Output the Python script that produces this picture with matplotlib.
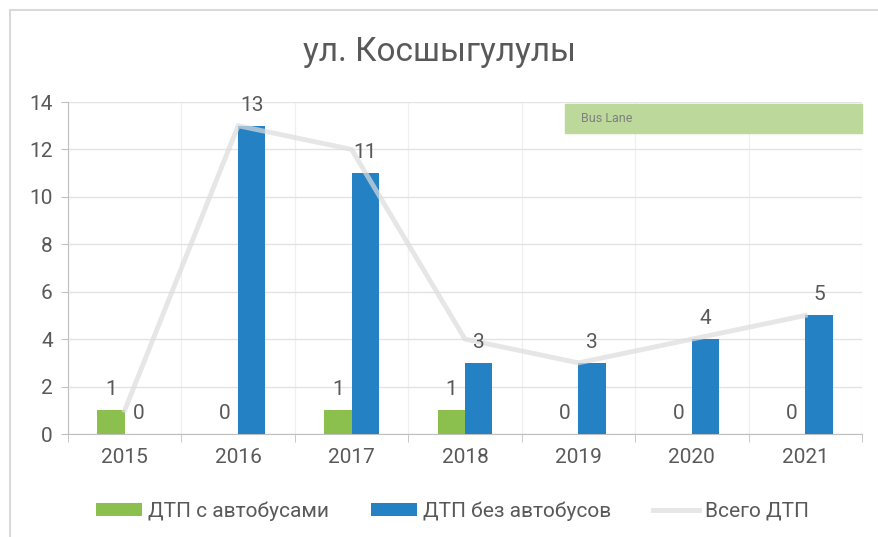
import numpy as np
import matplotlib.pyplot as plt
from matplotlib.patches import Rectangle

years = ["2015", "2016", "2017", "2018", "2019", "2020", "2021"]
with_bus = [1, 0, 1, 1, 0, 0, 0]
without_bus = [0, 13, 11, 3, 3, 4, 5]
total = [1, 13, 12, 4, 3, 4, 5]

plt.rcParams['font.family'] = ['Roboto', 'DejaVu Sans']
text_col = "#595959"
green = "#8bc04f"
blue = "#2381c4"

fig = plt.figure(figsize=(8.79, 5.37), dpi=100)
ax = fig.add_axes([68 / 879, 1 - 434 / 537, 794 / 879, 332 / 537])

# outer chart frame
fig.patches.append(Rectangle((10 / 879, -0.01), 1.0, 1 - 10 / 537 + 0.01,
                             transform=fig.transFigure, fill=False,
                             edgecolor="#d9d9d9", linewidth=1.5))

x = np.arange(len(years))
w = 0.24
b1 = ax.bar(x - w / 2, with_bus, w, color=green, label="ДТП с автобусами", zorder=3)
b2 = ax.bar(x + w / 2, without_bus, w, color=blue, label="ДТП без автобусов", zorder=3)
ln, = ax.plot(x, total, color="#dcdcdc", alpha=0.7, linewidth=3.5, label="Всего ДТП", zorder=4)

for bars, vals in ((b1, with_bus), (b2, without_bus)):
    for r, v in zip(bars, vals):
        ax.annotate(str(v), (r.get_x() + r.get_width() / 2, v), xytext=(0, 8),
                    textcoords="offset points", ha="center", va="bottom",
                    fontsize=15, color=text_col, zorder=5)

ax.set_xlim(-0.5, len(years) - 0.5)
ax.set_ylim(0, 14)
ax.set_yticks(range(0, 15, 2))
ax.set_xticks(x)
ax.set_xticklabels(years)
ax.set_xticks(np.arange(-0.5, len(years), 1), minor=True)
ax.tick_params(axis="x", which="major", length=0, pad=10, labelsize=15, labelcolor=text_col)
ax.tick_params(axis="x", which="minor", length=6, color="#bfbfbf")
ax.tick_params(axis="y", length=5, color="#bfbfbf", labelsize=15, labelcolor=text_col, pad=6)
ax.grid(axis="y", color="#e3e3e3", linewidth=1, zorder=0)
ax.grid(axis="x", which="minor", color="#f0f0f0", linewidth=1, zorder=0)
for s in ("top", "right"):
    ax.spines[s].set_visible(False)
for s in ("left", "bottom"):
    ax.spines[s].set_color("#bfbfbf")

# bus lane marker
ax.add_patch(Rectangle((0.626, 12.7 / 14), 0.374, 1.22 / 14, transform=ax.transAxes,
                       color="#bcd89a", zorder=2, clip_on=False))
ax.text(0.646, 13.3 / 14, "Bus Lane", transform=ax.transAxes, fontsize=9,
        color="#808080", va="center", zorder=3)

fig.text(0.5, 1 - 52 / 537, "ул. Косшыгулулы", ha="center", va="center",
         fontsize=24, color=text_col)

leg = fig.legend(handles=[b1, b2, ln], loc="center", bbox_to_anchor=(0.515, 1 - 511 / 537),
                 ncol=3, frameon=False, fontsize=15, handlelength=2.2, handleheight=0.6,
                 columnspacing=2.0, handletextpad=0.3)
for t in leg.get_texts():
    t.set_color(text_col)

fig.savefig("out.png", dpi=100)
